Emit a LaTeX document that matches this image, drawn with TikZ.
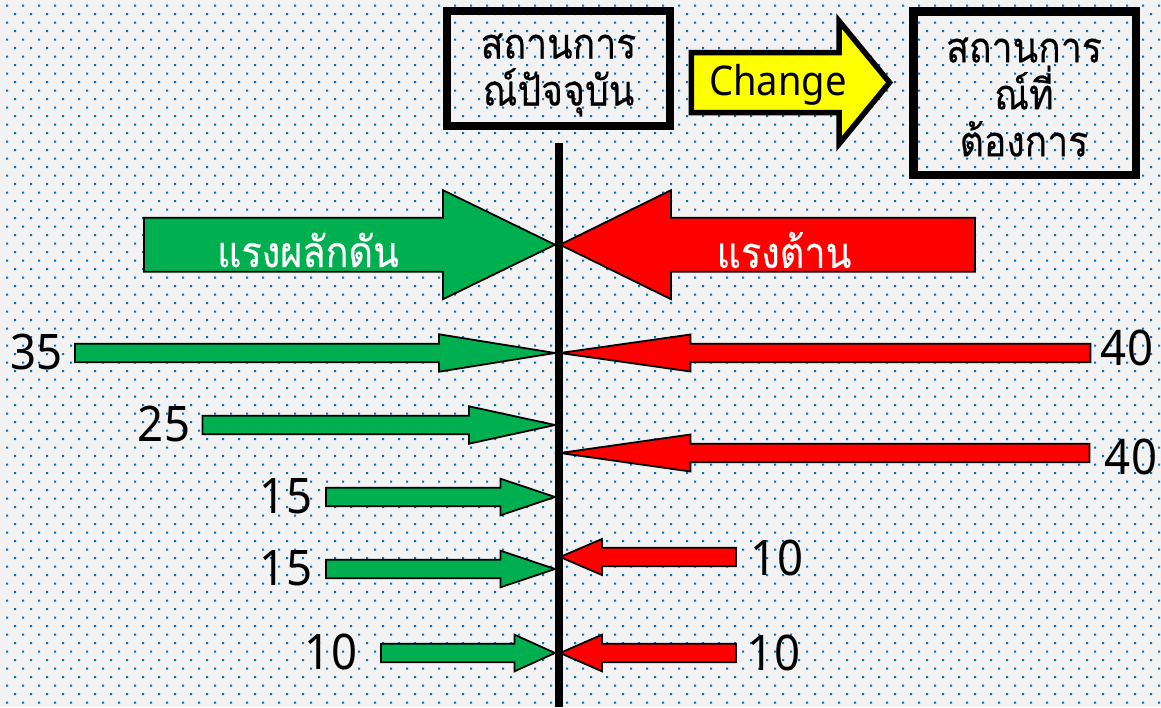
\documentclass[tikz,border=0pt]{standalone}
\usepackage{fontspec}
\setmainfont{Loma}[Script=Thai,FakeStretch=0.88,FakeBold=0.25]
\newfontfamily\latinf{Noto Sans}[FakeStretch=0.93]
\definecolor{bgc}{HTML}{F2F2F2}
\definecolor{dotc}{HTML}{0070C0}
\definecolor{gfill}{HTML}{00B050}
\definecolor{rfill}{HTML}{FF0000}
\definecolor{yfill}{HTML}{FFFF00}
\tikzset{
  px/.style={x=1pt,y=-1pt},
  bigtext/.style={font=\fontsize{42.5}{47}\selectfont,align=center,text=black,inner sep=0pt},
  headtext/.style={font=\fontsize{43}{50}\selectfont,text=white,inner sep=0pt},
  numtext/.style={font=\latinf\fontsize{49}{50}\selectfont,text=black,inner sep=0pt},
  blockg/.style={draw=black,line width=1.8pt,fill=gfill,line join=miter},
  blockr/.style={draw=black,line width=1.8pt,fill=rfill,line join=miter},
}
% tail x, head base x, tip x, centre y, shaft half, head half, style
\newcommand{\blockarrow}[7]{\draw[#7] (#1,#4-#5) -- (#2,#4-#5) -- (#2,#4-#6) -- (#3,#4) -- (#2,#4+#6) -- (#2,#4+#5) -- (#1,#4+#5) -- cycle;}
\begin{document}
\begin{tikzpicture}[px]
\useasboundingbox (0,0) rectangle (1161,707);
\fill[bgc] (0,0) rectangle (1161,707);
\fill[dotc] \foreach \r in {0,...,41}{
  \foreach \c in {0,...,72}{
    ({6+16*\c},{4.5+17*\r}) rectangle +(2,2)
    ({14+16*\c},{13+17*\r}) rectangle +(2,2)
  }
};
% centre line
\fill[black] (554.5,143) rectangle (562.5,707);
% boxes
\draw[draw=black,line width=8pt] (446.5,10.8) rectangle (670,126);
\draw[draw=black,line width=8.5pt] (913.5,11.3) rectangle (1136,175);
\node[bigtext] (cur) at (558.5,75) {สถานการ\\ณ์ปัจจุบัน};
\node[bigtext] (want) at (1024,97) {สถานการ\\ณ์ที่\\ต้องการ};
% change arrow
\draw[draw=black,line width=5.5pt,fill=yfill,line join=miter] (691.4,52.5) -- (839,52.5) -- (839,21) -- (889.5,82.5) -- (839,144) -- (839,112.5) -- (691.4,112.5) -- cycle;
\node[font=\latinf\fontsize{41}{42}\selectfont,inner sep=0pt] (chg) at (778,85) {Change};
% main arrows
\blockarrow{144}{443}{555}{244.7}{27}{54.5}{blockg}
\blockarrow{975}{671}{560}{244.7}{27}{54.5}{blockr}
\node[headtext] (push) at (308,250) {แรงผลักดัน};
\node[headtext] (res) at (784,250) {แรงต้าน};
% rows
\blockarrow{75}{439}{555}{353}{9.2}{18.7}{blockg}
\blockarrow{202.5}{469}{555}{425}{9.2}{18.7}{blockg}
\blockarrow{326}{500.5}{555}{497}{9.2}{18.3}{blockg}
\blockarrow{326}{500.5}{555}{569}{9.2}{18.3}{blockg}
\blockarrow{381}{514.5}{555}{653}{9.2}{18.3}{blockg}
\blockarrow{1090.5}{690.5}{560}{353}{9.2}{18.5}{blockr}
\blockarrow{1089.5}{690.5}{560}{453}{9.2}{18.5}{blockr}
\blockarrow{736}{602}{560}{557}{9.2}{18}{blockr}
\blockarrow{736}{602}{560}{653}{9.2}{18.3}{blockr}
\node[numtext] (a) at (37,352) {35};
\node[numtext] (b) at (164,424) {25};
\node[numtext] (c) at (286,496) {15};
\node[numtext] (d) at (286,568) {15};
\node[numtext] (e) at (331,652) {10};
\node[numtext] (f) at (1127,348) {40};
\node[numtext] (g) at (1131,457) {40};
\node[numtext] (h) at (777,558) {10};
\node[numtext] (i) at (774,653) {10};
\end{tikzpicture}
\end{document}
